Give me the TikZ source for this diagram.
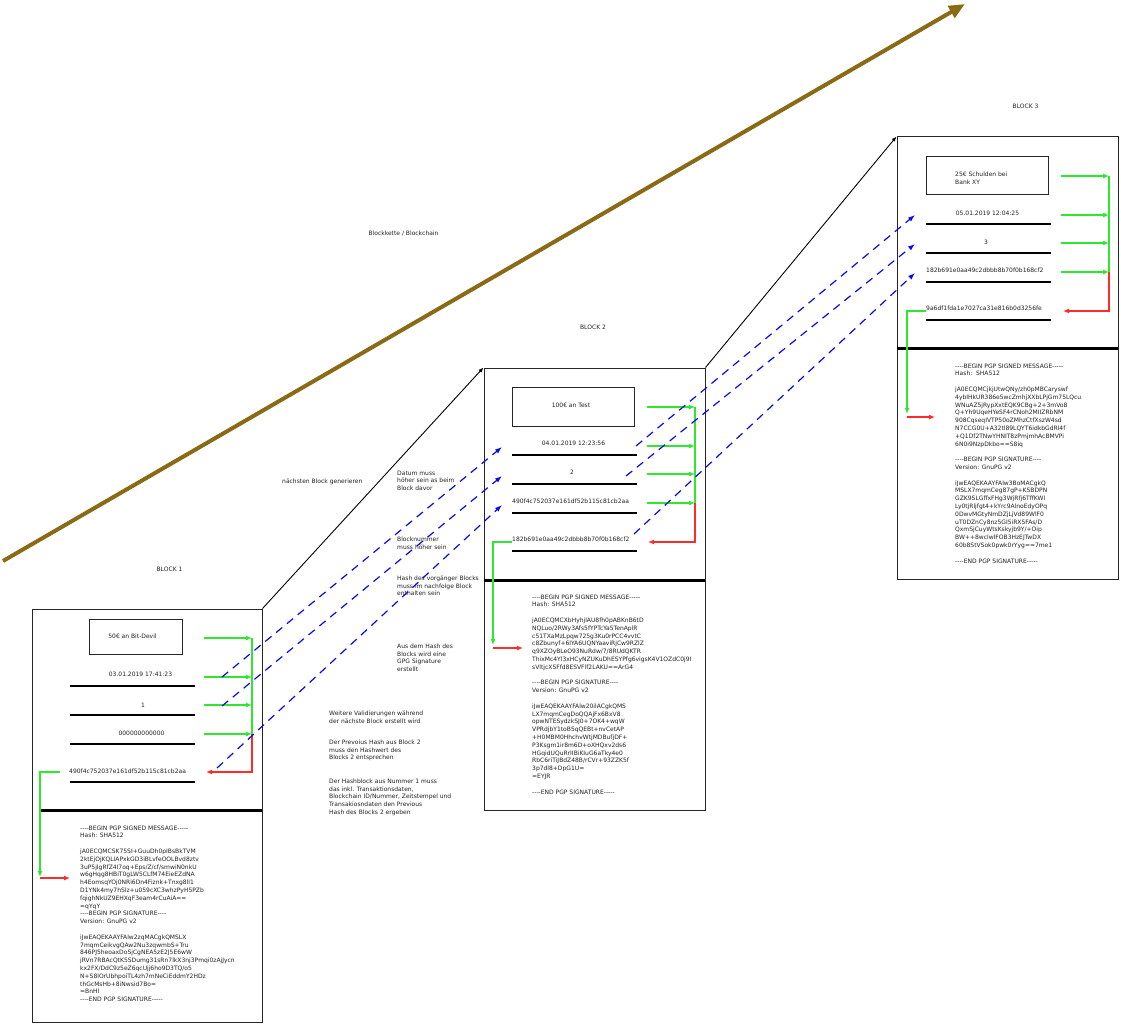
\documentclass[tikz,border=0pt]{standalone}
\usepackage{fontspec}
\newfontfamily\dv{DejaVu Sans}
\usetikzlibrary{arrows.meta}
\definecolor{grn}{HTML}{2EE82E}
\definecolor{rd}{HTML}{FF2A2A}
\definecolor{bl}{HTML}{0A0AEE}
\definecolor{brn}{HTML}{8A6A14}
\definecolor{ink}{HTML}{222222}
\begin{document}
\begin{tikzpicture}[x=1pt,y=-1pt,
 txt/.style={font=\dv\fontsize{6}{7.8}\selectfont, inner sep=0pt, text=ink},
 ml/.style={txt, align=left, anchor=north west},
 blockbox/.style={draw=black!85, line width=1pt, inner sep=0pt},
 fieldline/.style={line width=2.6pt},
 sepline/.style={line width=3pt},
 ga/.style={draw=grn, line width=1.2pt, -{Latex[length=6pt,width=5pt]}},
 gl/.style={draw=grn, line width=1.2pt},
 ra/.style={draw=rd, line width=1.2pt, -{Latex[length=6pt,width=5pt]}},
 ba/.style={draw=bl, line width=1.2pt, dash pattern=on 8pt off 6pt, -{Latex[length=7pt,width=5pt]}},
 ka/.style={draw=black, line width=0.9pt, -{Latex[length=5pt,width=4pt]}},
]
\fill[white] (0,0) rectangle (1121,1024);
\useasboundingbox (0,0) rectangle (1121,1024);

% ---------- big chain arrow ----------
\coordinate (bs) at (3,561);
\coordinate (be) at (965,4);
\draw[brn, line width=4pt, -{Triangle[length=16pt,width=13pt]}] (bs) -- (be);
\node[txt] (tchain) at (403.5,233) {Blockkette / Blockchain};

% ---------- block frames ----------
\node[blockbox, minimum width=230pt, minimum height=413pt] (b1) at (147,815.5) {};
\node[blockbox, minimum width=221pt, minimum height=442pt] (b2) at (594.5,589) {};
\node[blockbox, minimum width=221pt, minimum height=442pt] (b3) at (1007.5,358) {};
\node[txt] (l1) at (169.5,569) {BLOCK 1};
\node[txt] (l2) at (593,327) {BLOCK 2};
\node[txt] (l3) at (1025.5,106) {BLOCK 3};

\draw[ka] (b1.north east) -- (b2.north west);
\draw[ka] (b2.north east) -- (b3.north west);

% ---------- block 1 ----------
\node[blockbox, minimum width=93pt, minimum height=35pt] (tx1) at (135.5,636.5) {};
\node[txt] (tx1t) at (132.5,636) {50€ an Bit-Devil};
\node[txt] (d1) at (140.5,674) {03.01.2019 17:41:23};
\node[txt] (n1) at (143,705) {1};
\node[txt] (p1) at (141.5,733) {000000000000};
\node[txt, anchor=west] (h1) at (69,771) {490f4c752037e161df52b115c81cb2aa};
\draw[fieldline] (70,686) -- (195,686);
\draw[fieldline] (70,715) -- (195,715);
\draw[fieldline] (70,744) -- (195,744);
\draw[fieldline] (70,782) -- (195,782);
\draw[sepline] (40,810) -- (262,810);

\coordinate (g1a) at (204,638); \coordinate (v1a) at (252,638);
\coordinate (g1b) at (204,677); \coordinate (v1b) at (252,677);
\coordinate (g1c) at (204,705); \coordinate (v1c) at (252,705);
\coordinate (g1d) at (204,734); \coordinate (v1d) at (252,734);
\coordinate (r1c) at (252,772); \coordinate (r1e) at (206,772);
\draw[ga] (g1a) -- (v1a);
\draw[ga] (g1b) -- (v1b);
\draw[ga] (g1c) -- (v1c);
\draw[ga] (g1d) -- (v1d);
\draw[gl] (v1a) -- (v1d);
\draw[ra] (v1d) -- (r1c) -- (r1e);
\coordinate (k1s) at (60,772); \coordinate (k1c) at (40,772); \coordinate (k1e) at (40,877);
\coordinate (k1r) at (40,878); \coordinate (k1t) at (70,878);
\draw[ga] (k1s) -- (k1c) -- (k1e);
\draw[ra] (k1r) -- (k1t);

\node[ml] (pgp1) at (80,825.5) {----BEGIN PGP SIGNED MESSAGE-----\\
Hash: SHA512\\[7.8pt]
jA0ECQMCSK75SI+GuuDh0pIBsBkTVM\\
2ktEjOjKQLIAPxkGD3iBLvfeOOLBvd8ztv\\
3uP5jIgRfZ4I7oq+Eps/Z/cf/smwiN0nkU\\
w6gHqg8HBiT0gLW5CLfM74EieEZdNA\\
h4EomsqYOj0NRi6Dn4Fiznk+Tnxg8ll1\\
D1YNk4my7hSlz+u059cXC3whzPyH5PZb\\
fqighNkUZ9EHXqF3eam4rCuAiA==\\
=qYqY\\
----BEGIN PGP SIGNATURE----\\
Version: GnuPG v2\\[7.8pt]
iJwEAQEKAAYFAlw2zqMACgkQMSLX\\
7mqmCeikvgQAw2Nu3zqwmbS+Tru\\
846PJ5heoaxDoSjCgNEA5zE2J5E6wW\\
jRVn7RBAcQtK5SDumg31sRn7lkX3nj3Pmqi0zAjJycn\\
kx2FX/DdC9z5eZ6qcUjj6ho9D3TQ/o5\\
N+S8lOrUbhpoiTL4zh7mNeCiEddmY2HDz\\
thGcMsHb+8iNwsid7Bo=\\
=BnHl\\
----END PGP SIGNATURE-----};

% ---------- block 2 ----------
\node[blockbox, minimum width=122pt, minimum height=39pt] (tx2) at (573,406.5) {};
\node[txt] (tx2t) at (571,405) {100€ an Test};
\node[txt] (d2) at (573.5,443) {04.01.2019 12:23:56};
\node[txt] (n2) at (572,472) {2};
\node[txt, anchor=west] (p2) at (512,501) {490f4c752037e161df52b115c81cb2aa};
\node[txt, anchor=west] (h2) at (512,539.5) {182b691e0aa49c2dbbb8b70f0b168cf2};
\draw[fieldline] (512,455) -- (637,455);
\draw[fieldline] (512,484) -- (637,484);
\draw[fieldline] (512,513) -- (637,513);
\draw[fieldline] (512,551) -- (637,551);
\draw[sepline] (484,580) -- (705,580);

\coordinate (g2a) at (647,407); \coordinate (v2a) at (695,407);
\coordinate (g2b) at (647,446); \coordinate (v2b) at (695,446);
\coordinate (g2c) at (647,474); \coordinate (v2c) at (695,474);
\coordinate (g2d) at (647,503); \coordinate (v2d) at (695,503);
\coordinate (r2c) at (695,542); \coordinate (r2e) at (648,542);
\draw[ga] (g2a) -- (v2a);
\draw[ga] (g2b) -- (v2b);
\draw[ga] (g2c) -- (v2c);
\draw[ga] (g2d) -- (v2d);
\draw[gl] (v2a) -- (v2d);
\draw[ra] (v2d) -- (r2c) -- (r2e);
\coordinate (k2s) at (512,542); \coordinate (k2c) at (493,542); \coordinate (k2e) at (493,645);
\coordinate (k2r) at (493,648); \coordinate (k2t) at (523,648);
\draw[ga] (k2s) -- (k2c) -- (k2e);
\draw[ra] (k2r) -- (k2t);

\node[ml] (pgp2) at (532,594.5) {----BEGIN PGP SIGNED MESSAGE-----\\
Hash: SHA512\\[7.8pt]
jA0ECQMCXbHyhjlAU8fh0pABKnB6tD\\
NQLuo/2RWy3Afs5fYPTcYa5TenAplR\\
c51TXaMzLpqw725g3Ku0rPCC4vvtC\\
c8Zbunyf+6lYA6UQNYaaviRjCw9RZlZ\\
q9XZOyBLeO93NuRdw/7/8RUdQKTR\\
ThixMc4Yl3xHCyNZUKuDhESYPfg6vigsK4V1OZdC0j9I\\
sVltjcXSFfd8ESVFlf2LAKU==ArG4\\[7.8pt]
----BEGIN PGP SIGNATURE----\\
Version: GnuPG v2\\[7.8pt]
iJwEAQEKAAYFAlw20ilACgkQMS\\
LX7mqmCegDoQQAjFx6BxV8\\
opwNTESydzkSJ0+7OK4+wqW\\
VPRdjbY1toB5qQEBt+nvCetAP\\
+H0MBM0HhchvWtjMDBufjDF+\\
P3Ksgm1ir8m6D+oXHQxv2ds6\\
HGqidUQuRrIIBiKIuG6aTky4e0\\
RbC6riTiJBdZ48B/rCVr+93ZZK5f\\
3p7dl8+DpG1U=\\
=EYJR\\[7.8pt]
----END PGP SIGNATURE-----};

% ---------- block 3 ----------
\node[blockbox, minimum width=122pt, minimum height=38pt] (tx3) at (987,176) {};
\node[ml] (tx3t) at (955,171.5) {25€ Schulden bei\\Bank XY};
\node[txt] (d3) at (987.5,213) {05.01.2019 12:04:25};
\node[txt] (n3) at (986,242) {3};
\node[txt, anchor=west] (p3) at (926,270) {182b691e0aa49c2dbbb8b70f0b168cf2};
\node[txt, anchor=west] (h3) at (926,308.5) {9a6df1fda1e7027ca31e816b0d3256fe};
\draw[fieldline] (926,224) -- (1051,224);
\draw[fieldline] (926,253) -- (1051,253);
\draw[fieldline] (926,282) -- (1051,282);
\draw[fieldline] (926,320) -- (1051,320);
\draw[sepline] (897,348) -- (1118,348);

\coordinate (g3a) at (1061,176); \coordinate (v3a) at (1109,176);
\coordinate (g3b) at (1061,215); \coordinate (v3b) at (1109,215);
\coordinate (g3c) at (1061,243); \coordinate (v3c) at (1109,243);
\coordinate (g3d) at (1061,272); \coordinate (v3d) at (1109,272);
\coordinate (r3c) at (1109,311); \coordinate (r3e) at (1063,311);
\draw[ga] (g3a) -- (v3a);
\draw[ga] (g3b) -- (v3b);
\draw[ga] (g3c) -- (v3c);
\draw[ga] (g3d) -- (v3d);
\draw[gl] (v3a) -- (v3d);
\draw[ra] (v3d) -- (r3c) -- (r3e);
\coordinate (k3s) at (926,311); \coordinate (k3c) at (907,311); \coordinate (k3e) at (907,414);
\coordinate (k3r) at (907,417); \coordinate (k3t) at (935,417);
\draw[ga] (k3s) -- (k3c) -- (k3e);
\draw[ra] (k3r) -- (k3t);

\node[ml] (pgp3) at (955,363.5) {----BEGIN PGP SIGNED MESSAGE-----\\
Hash:\ \ SHA512\\[7.8pt]
jA0ECQMCjkjUtwQNy/zh0pMBCaryswf\\
4ybIHkUR386e5wcZmhjXXbLPjGm75LQcu\\
WNuAZ5jRypXxtEQK9CBg+2+3mVo8\\
Q+Yh9UqeHYeSF4rCNoh2MIIZRbNM\\
908CqseqIVTP50oZMhzCtfXszW4sd\\
N7CCG0U+A32tl89LQYT6idkbGdRl4f\\
+Q1Df2TNwYHNIT8zPmjmhAcBMVPi\\
6N0i9NzpDkbo==S8iq\\[7.8pt]
----BEGIN PGP SIGNATURE----\\
Version: GnuPG v2\\[7.8pt]
iJwEAQEKAAYFAlw3BoMACgkQ\\
MSLX7mqmCeg87gP+KSBDPN\\
GZK9SLGffxFHg3WjRfj6TffKWl\\
Ly0tjRljfgt4+kYrc9AlnoEdyOPq\\
0DwvMGtyNmDZjLjVd89WlF0\\
uT0DZnCy8nz5GI5iRX5FAs/D\\
QxmSjCuyWtsKskyjb9Y/+Oip\\
BW++8wclwIFOB3HzEJTwDX\\
60b8StVSok0pwk0rYyg==7me1\\[7.8pt]
----END PGP SIGNATURE-----};

% ---------- blue validation arrows ----------
\coordinate (sa) at (222,677); \coordinate (ea) at (502,447);
\coordinate (sb) at (222,706); \coordinate (eb) at (502,476);
\coordinate (sc) at (217,768); \coordinate (ec) at (502,505);
\coordinate (sd) at (636,446); \coordinate (ed) at (915,215);
\coordinate (se) at (626,476); \coordinate (ee) at (915,244);
\coordinate (sf) at (634,534); \coordinate (ef) at (915,273);
\draw[ba] (sa) -- (ea);
\draw[ba] (sb) -- (eb);
\draw[ba] (sc) -- (ec);
\draw[ba] (sd) -- (ed);
\draw[ba] (se) -- (ee);
\draw[ba] (sf) -- (ef);

% ---------- annotations ----------
\node[txt, anchor=west] (a0) at (282,482) {nächsten Block generieren};
\node[ml] (a1) at (397,470.5) {Datum muss\\höher sein as beim\\Block davor};
\node[ml] (a2) at (397,536.5) {Blocknummer\\muss höher sein};
\node[ml] (a3) at (397,575.5) {Hash des vorgänger Blocks\\muss im nachfolge Block\\enthalten sein};
\node[ml] (a4) at (397,643.5) {Aus dem Hash des\\Blocks wird eine\\GPG Signature\\erstellt};
\node[ml] (a5) at (329,710.5) {Weitere Validierungen während\\der nächste Block erstellt wird};
\node[ml] (a6) at (329,739.5) {Der Prevoius Hash aus Block 2\\muss den Hashwert des\\Blocks 2 entsprechen};
\node[ml] (a7) at (329,778.5) {Der Hashblock aus Nummer 1 muss\\das inkl. Transaktionsdaten,\\Blockchain ID/Nummer, Zeitstempel und\\Transakiosndaten den Previous\\Hash des Blocks 2 ergeben};
\end{tikzpicture}
\end{document}
